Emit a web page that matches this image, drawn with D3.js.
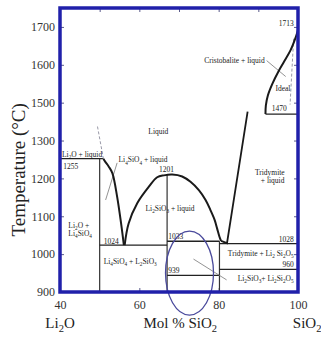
<!DOCTYPE html>
<html>
<head>
<meta charset="utf-8">
<script src="https://cdn.jsdelivr.net/npm/d3@7"></script>
<style>
  html, body { margin: 0; padding: 0; background: #fff; }
  svg { display: block; }
  text { font-family: 'Liberation Serif', 'Times New Roman', serif; }
</style>
</head>
<body>
<div id="chart"></div>
<script>
// axis values
const xTicks = [40, 60, 80, 100];
const xMinorTicks = [50, 60, 70, 80, 90];
const yTicks = [900, 1000, 1100, 1200, 1300, 1500, 1600, 1700];

// liquidus curves [mol % SiO2, temperature]
const liquidusLi4SiO4 = [[51.0, 1252], [51.2, 1247], [52.3, 1231], [53.2, 1214], [54.4, 1152], [55.4, 1081], [56.1, 1024]];
const liquidusDome = [[56.3, 1024], [57.3, 1081], [59.5, 1135], [62.4, 1178], [64.5, 1203], [66.2, 1208], [68.3, 1210],
  [70.8, 1205], [72.9, 1191], [75.0, 1169], [76.7, 1143], [77.9, 1117], [79.0, 1090], [79.6, 1068], [80.2, 1046], [80.6, 1035]];
const liquidusTridymite = [[80.6, 1035], [82.1, 1029], [87.3, 1453]];
const liquidusCristobalite = [[91.8, 1440], [91.9, 1486], [92.4, 1519], [93.5, 1549], [95.2, 1585], [96.4, 1607],
  [98.1, 1638], [99.3, 1669], [100, 1692]];

// isotherms
const isoTemp = [1252, 1024, 1034, 1028, 960, 944, 1440];
const isoFrom = [40, 50, 67, 80.2, 80.2, 67, 91.8];
const isoTo = [51, 67, 80.2, 100, 100, 80.2, 100];

// compound verticals
const vertX = [50, 67, 80.2];
const vertTop = [1252, 1209, 1034];

// dashed and leader lines
const dashedLines = [[[49.45, 1374], [50.97, 1250]], [[98.9, 1669], [98.0, 1490]]];
const leaderLines = [[[54.4, 1241], [51.5, 1143]], [[73.65, 987], [82.0, 932]], [[92.1, 1611], [96.9, 1569]]];
const ellipseBox = [66.6, 78.7, 839, 1061];

// region labels: text, x, y, anchor  (_n = subscript)
const labels = [
  ['Li_2O + liquid', 40.5, 1257, 'start'],
  ['1255', 40.8, 1226, 'start'],
  ['Li_4SiO_4 + liquid', 54.75, 1242, 'start'],
  ['Liquid', 64.8, 1337, 'middle'],
  ['1201', 66.85, 1217, 'middle'],
  ['Li_2SiO_3 + liquid', 61.55, 1115, 'start'],
  ['Li_2O +', 42.1, 1070, 'start'],
  ['Li_4SiO_4', 42.1, 1048, 'start'],
  ['1024', 51.0, 1028, 'start'],
  ['Li_4SiO_4 + L_2SiO_3', 51.0, 974, 'start'],
  ['1033', 67.3, 1041, 'start'],
  ['939', 67.3, 951, 'start'],
  ['Tridymite', 92.9, 1210, 'middle'],
  ['+ liquid', 93.6, 1187, 'middle'],
  ['1028', 98.9, 1033, 'end'],
  ['Tridymite + Li_2 Si_2O_5', 98.9, 995, 'end'],
  ['960', 98.9, 965, 'end'],
  ['Li_2SiO_3+ Li_2Si_2O_5', 98.9, 929, 'end'],
  ['Cristobalite + liquid', 91.6, 1604, 'end'],
  ['1713', 98.9, 1702, 'end'],
  ['Ideal', 96.2, 1530, 'middle'],
  ['1470', 95.3, 1458, 'middle']
];

const W = 321, H = 338;
const margin = {top: 8, right: 23, bottom: 46, left: 60};
const width = W - margin.left - margin.right;
const height = H - margin.top - margin.bottom;
const step = height / 7.5;

const svg = d3.select('#chart').append('svg')
  .attr('width', W)
  .attr('height', H);
const g = svg.append('g')
  .attr('transform', 'translate(' + margin.left + ',' + margin.top + ')');

const x = d3.scaleLinear().domain([40, 100]).range([0, width]);
// the printed axis is evenly spaced but skips 1400
const y = d3.scaleLinear()
  .domain([900, 1200, 1300, 1500, 1700])
  .range([height, height - 3 * step, height - 4 * step, height - 5 * step, height - 7 * step]);

// rich text with subscripts
function rich(sel, str, size) {
  let shifted = false;
  str.split(/(_\d)/).filter(s => s).forEach(p => {
    if (p[0] === '_') {
      sel.append('tspan').attr('font-size', size * 0.7).attr('dy', shifted ? 0 : size * 0.28).text(p.slice(1));
      shifted = true;
    } else {
      sel.append('tspan').attr('dy', shifted ? -size * 0.28 : 0).text(p);
      shifted = false;
    }
  });
}

// axes
const tickColor = '#5a5a8a';
const axLeft = g.append('g').call(d3.axisLeft(y).tickValues(yTicks).tickSize(-4).tickPadding(5).tickFormat(d3.format('d')));
const axBottom = g.append('g').attr('transform', 'translate(0,' + height + ')')
  .call(d3.axisBottom(x).tickValues(xTicks).tickSize(-4).tickPadding(8));
const axTop = g.append('g').call(d3.axisTop(x).tickValues(xMinorTicks).tickSize(-4).tickFormat(''));
const axRight = g.append('g').attr('transform', 'translate(' + width + ',0)')
  .call(d3.axisRight(y).tickValues(yTicks).tickSize(-4).tickFormat(''));
[axLeft, axBottom, axTop, axRight].forEach(a => {
  a.select('.domain').remove();
  a.selectAll('line').attr('stroke', tickColor);
  a.selectAll('text').attr('font-size', 12).attr('fill', '#333')
    .style('font-family', "'Liberation Serif', 'Times New Roman', serif");
});
axBottom.selectAll('.tick line').filter(d => d === 40 || d === 100).remove();

const line = d3.line().x(d => x(d[0])).y(d => y(d[1]));
const curve = d3.line().x(d => x(d[0])).y(d => y(d[1])).curve(d3.curveCatmullRom.alpha(0.5));

// verticals
g.selectAll('.vert')
  .data(vertX)
  .enter().append('line')
  .attr('class', 'vert')
  .attr('x1', d => x(d)).attr('x2', d => x(d))
  .attr('y1', y(900)).attr('y2', (d, i) => y(vertTop[i]))
  .attr('stroke', '#333').attr('stroke-width', 1.2);

// isotherms
g.selectAll('.iso')
  .data(isoTemp)
  .enter().append('line')
  .attr('class', 'iso')
  .attr('x1', (d, i) => x(isoFrom[i])).attr('x2', (d, i) => x(isoTo[i]))
  .attr('y1', d => y(d)).attr('y2', d => y(d))
  .attr('stroke', '#222').attr('stroke-width', 1.3);

// dashed guides
g.selectAll('.dash')
  .data(dashedLines)
  .enter().append('path')
  .attr('class', 'dash')
  .attr('d', line)
  .attr('fill', 'none').attr('stroke', '#9a9aa8').attr('stroke-width', 1)
  .attr('stroke-dasharray', '3,2');

// leader lines
g.selectAll('.leader')
  .data(leaderLines)
  .enter().append('path')
  .attr('class', 'leader')
  .attr('d', line)
  .attr('fill', 'none').attr('stroke', '#777').attr('stroke-width', 0.8);

// liquidus
[liquidusLi4SiO4, liquidusDome, liquidusCristobalite].forEach(c => {
  g.append('path').attr('d', curve(c))
    .attr('fill', 'none').attr('stroke', '#1a1a1a').attr('stroke-width', 2);
});
g.append('path').attr('d', line(liquidusTridymite))
  .attr('fill', 'none').attr('stroke', '#1a1a1a').attr('stroke-width', 1.8);

// labels
labels.forEach(l => {
  const t = g.append('text')
    .attr('x', x(l[1])).attr('y', y(l[2]))
    .attr('text-anchor', l[3])
    .attr('font-size', 7.5)
    .attr('fill', '#1a1a1a');
  rich(t, l[0], 7.5);
});

// highlight ellipse
g.append('ellipse')
  .attr('cx', (x(ellipseBox[0]) + x(ellipseBox[1])) / 2)
  .attr('cy', (y(ellipseBox[2]) + y(ellipseBox[3])) / 2)
  .attr('rx', (x(ellipseBox[1]) - x(ellipseBox[0])) / 2)
  .attr('ry', (y(ellipseBox[2]) - y(ellipseBox[3])) / 2)
  .attr('fill', 'none').attr('stroke', '#4a4a9c').attr('stroke-width', 1.3);

// frame
g.append('rect')
  .attr('width', width).attr('height', height)
  .attr('fill', 'none').attr('stroke', '#2020aa').attr('stroke-width', 3.5);

// axis titles
const yTitle = svg.append('text')
  .attr('transform', 'translate(25,' + (margin.top + height * 0.57) + ') rotate(-90)')
  .attr('text-anchor', 'middle').attr('font-size', 19).attr('fill', '#222');
rich(yTitle, 'Temperature (°C)', 19);

const endLeft = svg.append('text')
  .attr('x', margin.left + x(40)).attr('y', 328)
  .attr('text-anchor', 'middle').attr('font-size', 15).attr('fill', '#222');
rich(endLeft, 'Li_2O', 15);

const xTitle = svg.append('text')
  .attr('x', margin.left + x(70.3)).attr('y', 328)
  .attr('text-anchor', 'middle').attr('font-size', 15).attr('fill', '#222');
rich(xTitle, 'Mol % SiO_2', 15);

const endRight = svg.append('text')
  .attr('x', margin.left + x(102.3)).attr('y', 328)
  .attr('text-anchor', 'middle').attr('font-size', 15).attr('fill', '#222');
rich(endRight, 'SiO_2', 15);
</script>
</body>
</html>
